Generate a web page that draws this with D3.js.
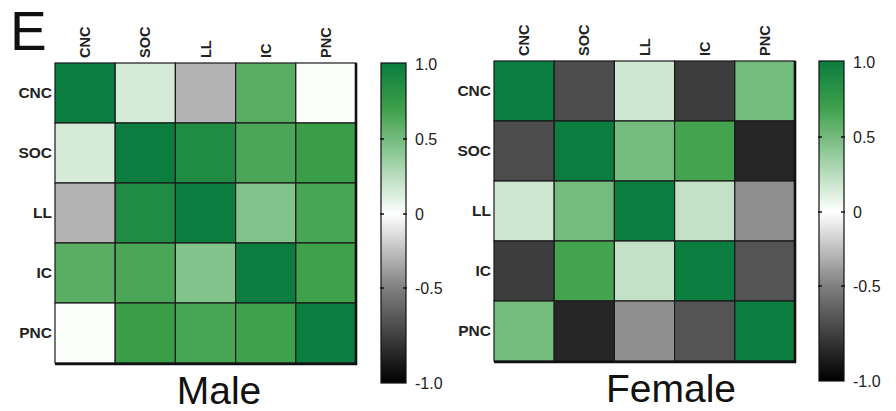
<!DOCTYPE html>
<html>
<head>
<meta charset="utf-8">
<script src="https://cdn.jsdelivr.net/npm/d3@7"></script>
<style>
  body { margin: 0; background: #fff; }
  svg { display: block; font-family: "Liberation Sans", Arial, sans-serif; }
</style>
</head>
<body>
<svg width="896" height="411"></svg>
<script>
// variables (same order for rows and columns)
const vars = ["CNC", "SOC", "LL", "IC", "PNC"]

// correlation matrices
const maleValues = [
  [1.00, 0.15, -0.30, 0.60, 0.01],
  [0.15, 1.00, 0.88, 0.65, 0.72],
  [-0.30, 0.88, 1.00, 0.45, 0.66],
  [0.60, 0.65, 0.45, 1.00, 0.69],
  [0.01, 0.72, 0.66, 0.69, 1.00]
]
const femaleValues = [
  [1.00, -0.70, 0.18, -0.76, 0.50],
  [-0.70, 1.00, 0.50, 0.68, -0.85],
  [0.18, 0.50, 1.00, 0.22, -0.44],
  [-0.76, 0.68, 0.22, 1.00, -0.67],
  [0.50, -0.85, -0.44, -0.67, 1.00]
]
const legendTicks = [1, 0.5, 0, -0.5, -1]

const svg = d3.select('svg')
const defs = svg.append('defs')

// colour: black -> white -> green
const color = d3.scaleLinear()
  .domain([-1, 0, 0.7, 1])
  .range(["#000000", "#ffffff", "#3da04a", "#0b7d3e"])
  .clamp(true)

// panel "E"
svg.append('text')
  .attr('x', 10).attr('y', 50)
  .attr('font-size', 55)
  .attr('fill', '#111')
  .text('E')

const panels = [
  {title: "Male", data: maleValues, x: 55, y: 63, titleX: 219, barX: 381, barTop: 63},
  {title: "Female", data: femaleValues, x: 494, y: 61, titleX: 671, barX: 819, barTop: 61}
]

panels.forEach(function (p) {
  const size = 301
  const xScale = d3.scaleBand().domain(vars).range([p.x, p.x + size])
  const yScale = d3.scaleBand().domain(vars).range([p.y, p.y + size - 1])

  const g = svg.append('g')

  // cells
  const cells = []
  p.data.forEach(function (row, i) {
    row.forEach(function (v, j) {
      cells.push({r: vars[i], c: vars[j], v: v})
    })
  })
  g.selectAll('rect.cell').data(cells).enter().append('rect')
    .attr('class', 'cell')
    .attr('x', d => xScale(d.c))
    .attr('y', d => yScale(d.r))
    .attr('width', xScale.bandwidth())
    .attr('height', yScale.bandwidth())
    .attr('fill', d => color(d.v))
    .attr('stroke', '#1a1a1a')
    .attr('stroke-width', 1.2)

  // heavier right / bottom border
  g.append('path')
    .attr('d', 'M' + (p.x + size) + ',' + p.y + 'V' + (p.y + size) + 'H' + p.x)
    .attr('fill', 'none')
    .attr('stroke', '#111')
    .attr('stroke-width', 2.6)

  // column labels (rotated)
  g.selectAll('text.col').data(vars).enter().append('text')
    .attr('class', 'col')
    .attr('transform', d => 'translate(' + (xScale(d) + xScale.bandwidth() / 2 + 5) + ',' + (p.y - 5) + ') rotate(-90)')
    .attr('font-size', 14.5)
    .attr('font-weight', 'bold')
    .attr('fill', '#222')
    .text(d => d)

  // row labels
  g.selectAll('text.row').data(vars).enter().append('text')
    .attr('class', 'row')
    .attr('x', p.x - 3)
    .attr('y', d => yScale(d) + yScale.bandwidth() / 2 + 5)
    .attr('text-anchor', 'end')
    .attr('font-size', 15.5)
    .attr('font-weight', 'bold')
    .attr('fill', '#222')
    .text(d => d)

  // title
  g.append('text')
    .attr('x', p.titleX).attr('y', p.y + size + 40)
    .attr('text-anchor', 'middle')
    .attr('font-size', 39)
    .attr('fill', '#111')
    .text(p.title)

  // colour bar
  const barW = 25
  const barScale = d3.scaleLinear()
    .domain([-1, -0.5, 0, 0.5, 1])
    .range([p.barTop + 320, p.barTop + 225, p.barTop + 151, p.barTop + 76, p.barTop + 1])

  const gradId = 'grad-' + p.title
  const grad = defs.append('linearGradient')
    .attr('id', gradId)
    .attr('gradientUnits', 'userSpaceOnUse')
    .attr('x1', 0).attr('x2', 0)
    .attr('y1', barScale(1)).attr('y2', barScale(-1))
  // stops from top (1) to bottom (-1), offsets must increase
  d3.range(20, -21, -1).map(k => k / 20).forEach(function (v) {
    grad.append('stop')
      .attr('offset', (barScale(v) - barScale(1)) / (barScale(-1) - barScale(1)))
      .attr('stop-color', color(v))
  })

  g.append('rect')
    .attr('x', p.barX).attr('y', barScale(1) - 1)
    .attr('width', barW).attr('height', barScale(-1) - barScale(1) + 1)
    .attr('fill', 'url(#' + gradId + ')')
    .attr('stroke', '#111')
    .attr('stroke-width', 1.2)

  const inner = [0.5, 0, -0.5]
  g.selectAll('line.tl').data(inner).enter().append('line')
    .attr('x1', p.barX - 1).attr('x2', p.barX + 3)
    .attr('y1', d => barScale(d)).attr('y2', d => barScale(d))
    .attr('stroke', '#111').attr('stroke-width', 1.5)
  g.selectAll('line.tr').data(inner).enter().append('line')
    .attr('x1', p.barX + barW - 3).attr('x2', p.barX + barW + 1)
    .attr('y1', d => barScale(d)).attr('y2', d => barScale(d))
    .attr('stroke', '#111').attr('stroke-width', 1.5)

  g.selectAll('text.tick').data(legendTicks).enter().append('text')
    .attr('x', p.barX + barW + 9)
    .attr('y', d => barScale(d) + 6)
    .attr('font-size', 16)
    .attr('fill', '#222')
    .text(d => d === 0 ? '0' : (Number.isInteger(d) ? d.toFixed(1) : String(d)))
})
</script>
</body>
</html>
